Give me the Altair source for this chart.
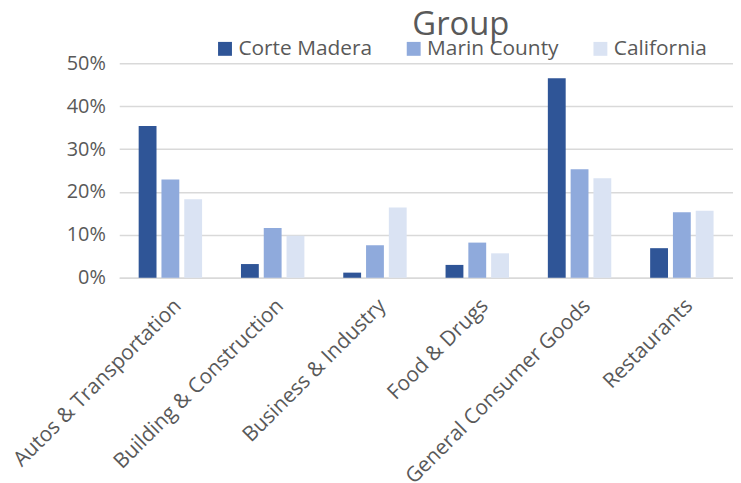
import altair as alt
import pandas as pd

categories = ["Autos & Transportation", "Building & Construction", "Business & Industry",
              "Food & Drugs", "General Consumer Goods", "Restaurants"]
groups = ["Corte Madera", "Marin County", "California"]
corte_madera = [0.354, 0.032, 0.012, 0.030, 0.465, 0.069]
marin_county = [0.229, 0.116, 0.076, 0.082, 0.253, 0.153]
california = [0.183, 0.098, 0.164, 0.057, 0.232, 0.156]
colors = ["#2F5597", "#8FAADC", "#DAE3F3"]

rows = []
for g, vals in zip(groups, [corte_madera, marin_county, california]):
    for c, v in zip(categories, vals):
        rows.append({"Category": c, "Group": g, "Value": v})
df = pd.DataFrame(rows)

FONT = "Open Sans"
GRAY = "#595959"

chart = alt.Chart(df).mark_bar().encode(
    x=alt.X("Category:N", sort=categories, title=None,
            scale=alt.Scale(paddingInner=0.38, paddingOuter=0.19),
            axis=alt.Axis(labelAngle=-45, labelFontSize=21, labelColor=GRAY, labelFont=FONT,
                          ticks=False, domainColor="#d9d9d9", domainWidth=1.5,
                          labelPadding=17, labelLimit=300)),
    xOffset=alt.XOffset("Group:N", sort=groups,
                        scale=alt.Scale(paddingInner=0.217, paddingOuter=0)),
    y=alt.Y("Value:Q", title=None,
            scale=alt.Scale(domain=[0, 0.5]),
            axis=alt.Axis(values=[0, 0.1, 0.2, 0.3, 0.4, 0.5], format=".0%",
                          labelFontSize=20, labelColor=GRAY, labelFont=FONT,
                          ticks=False, domain=False, gridColor="#d9d9d9", gridWidth=1.5,
                          labelPadding=14)),
    color=alt.Color("Group:N", sort=groups,
                    scale=alt.Scale(domain=groups, range=colors),
                    legend=alt.Legend(title="Group", orient="none", legendX=96, legendY=-54,
                                      direction="horizontal", columns=3, gridAlign="none",
                                      titleAnchor="middle", titleFontSize=33,
                                      titleFontWeight="normal", titleColor=GRAY, titleFont=FONT,
                                      titleLimit=400,
                                      labelFontSize=21, labelColor=GRAY, labelFont=FONT,
                                      symbolType="square", symbolSize=196, symbolStrokeWidth=0,
                                      columnPadding=31, labelOffset=3, titlePadding=-4)),
).properties(
    width=618, height=216,
    autosize=alt.AutoSizeParams(type="none"),
    padding={"left": 112, "top": 54, "right": 0, "bottom": 205},
).configure_view(stroke=None)

chart.save("out.html", embed_options={"renderer": "svg", "actions": False})
